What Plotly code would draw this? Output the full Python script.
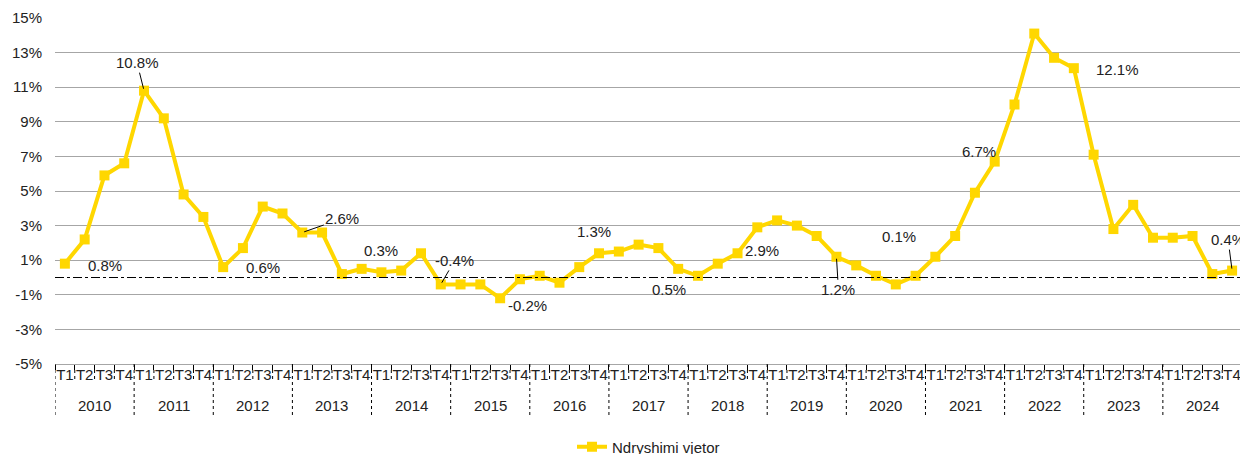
import plotly.graph_objects as go

years = ["2010", "2011", "2012", "2013", "2014", "2015", "2016", "2017",
         "2018", "2019", "2020", "2021", "2022", "2023", "2024"]
quarters = ["T1", "T2", "T3", "T4"]

values = [
    0.8, 2.2, 5.9, 6.6,
    10.8, 9.2, 4.8, 3.5,
    0.6, 1.7, 4.1, 3.7,
    2.6, 2.6, 0.2, 0.5,
    0.3, 0.4, 1.4, -0.4,
    -0.4, -0.4, -1.2, -0.1,
    0.1, -0.3, 0.6, 1.4,
    1.5, 1.9, 1.7, 0.5,
    0.1, 0.8, 1.4, 2.9,
    3.3, 3.0, 2.4, 1.2,
    0.7, 0.1, -0.4, 0.1,
    1.2, 2.4, 4.9, 6.7,
    10.0, 14.1, 12.7, 12.1,
    7.1, 2.8, 4.2, 2.3,
    2.3, 2.4, 0.2, 0.4,
]

series_name = "Ndryshimi vjetor"

# data labels: text and the point index they are attached to
label_texts = ["0.8%", "10.8%", "0.6%", "2.6%", "0.3%", "-0.4%", "-0.2%", "1.3%",
               "0.5%", "2.9%", "1.2%", "0.1%", "6.7%", "12.1%", "0.4%"]
label_points = [0, 4, 8, 12, 16, 19, 22, 27, 31, 35, 39, 42, 47, 51, 59]

# label placement (pixel offsets from the point, leader line flag)
label_offsets = [(40, 2, False), (-7, -28, True), (40, 0, False), (40, -14, True),
                 (0, -22, False), (14, -24, True), (27, 7, False), (-5, -22, False),
                 (-9, 21, False), (5, 23, False), (2, 33, True), (3, -48, False),
                 (-16, -10, False), (44, 1, False), (-4, -31, True)]

n = len(values)
x_idx = list(range(n))
q_text = [quarters[i % len(quarters)] for i in range(n)]

FONT = "Liberation Sans, Arial, sans-serif"
FS = 15
TXT = "#222"
YELLOW = "#FFD700"
M_T, M_B = 10, 98
PLOT_H = 454 - M_T - M_B  # plot area height in px


def py(px):
    """pixel offset below the plot bottom -> paper fraction"""
    return -px / PLOT_H


fig = go.Figure()
fig.add_trace(go.Scatter(
    x=x_idx,
    y=values,
    mode="lines+markers",
    name=series_name,
    line=dict(color=YELLOW, width=4),
    marker=dict(symbol="square", size=10, color=YELLOW),
    cliponaxis=False,
))

annotations = []
for txt, idx, (dx, dy, arrow) in zip(label_texts, label_points, label_offsets):
    if arrow:
        annotations.append(dict(
            x=idx, y=values[idx], xref="x", yref="y", text=txt,
            showarrow=True, ax=dx, ay=dy, arrowhead=0, arrowwidth=1,
            arrowcolor="#000", standoff=2,
            font=dict(family=FONT, size=FS, color=TXT),
        ))
    else:
        annotations.append(dict(
            x=idx, y=values[idx], xref="x", yref="y", text=txt,
            showarrow=False, xshift=dx, yshift=-dy,
            font=dict(family=FONT, size=FS, color=TXT),
        ))

# year labels under the quarter labels
for k, yr in enumerate(years):
    annotations.append(dict(
        x=k * 4 + 1.5, y=py(41), xref="x", yref="paper", text=yr,
        showarrow=False, yanchor="middle",
        font=dict(family=FONT, size=FS, color=TXT),
    ))

shapes = [dict(type="line", xref="paper", x0=0, x1=1, yref="y", y0=0, y1=0,
               line=dict(color="#000", width=1, dash="dashdot"), layer="above")]
# year dividers
for k in range(len(years) + 1):
    xb = k * 4 - 0.5
    shapes.append(dict(type="line", xref="x", x0=xb, x1=xb, yref="paper",
                       y0=0, y1=py(54), line=dict(color="#000", width=1, dash="dot")))
# quarter dividers (short dotted)
for i in range(n):
    if i % 4 == 0:
        continue
    xb = i - 0.5
    shapes.append(dict(type="line", xref="x", x0=xb, x1=xb, yref="paper",
                       y0=py(6), y1=py(18), line=dict(color="#000", width=1, dash="dot")))

fig.update_layout(
    width=1248, height=454,
    margin=dict(l=47, r=14, t=M_T, b=M_B, autoexpand=False),
    paper_bgcolor="white", plot_bgcolor="white",
    font=dict(family=FONT, size=FS, color=TXT),
    showlegend=True,
    legend=dict(orientation="h", x=0.5, xanchor="center", y=py(83), yanchor="middle",
                font=dict(family=FONT, size=FS, color=TXT),
                bgcolor="rgba(0,0,0,0)"),
    annotations=annotations,
    shapes=shapes,
)

fig.update_yaxes(
    range=[-5, 15], tickmode="array",
    tickvals=list(range(-5, 16, 2)),
    ticktext=[f"{v}%" for v in range(-5, 16, 2)],
    showgrid=True, gridcolor="#A6A6A6", gridwidth=1,
    zeroline=False, showline=False, ticks="", ticklabelstandoff=12,
    tickfont=dict(family=FONT, size=FS, color=TXT),
    automargin=False,
)
fig.update_xaxes(
    range=[-0.5, n - 0.5],
    tickmode="array", tickvals=x_idx, ticktext=q_text,
    showline=True, linecolor="#A6A6A6", linewidth=1,
    ticks="", tickangle=0, ticklabelstandoff=-3,
    minor=dict(tickmode="array", tickvals=[i - 0.5 for i in range(n + 1)],
               ticks="outside", ticklen=5, tickcolor="#000", showgrid=False),
    tickfont=dict(family=FONT, size=FS, color=TXT),
    showgrid=False, zeroline=False, automargin=False,
)

fig.write_html("out.html")
